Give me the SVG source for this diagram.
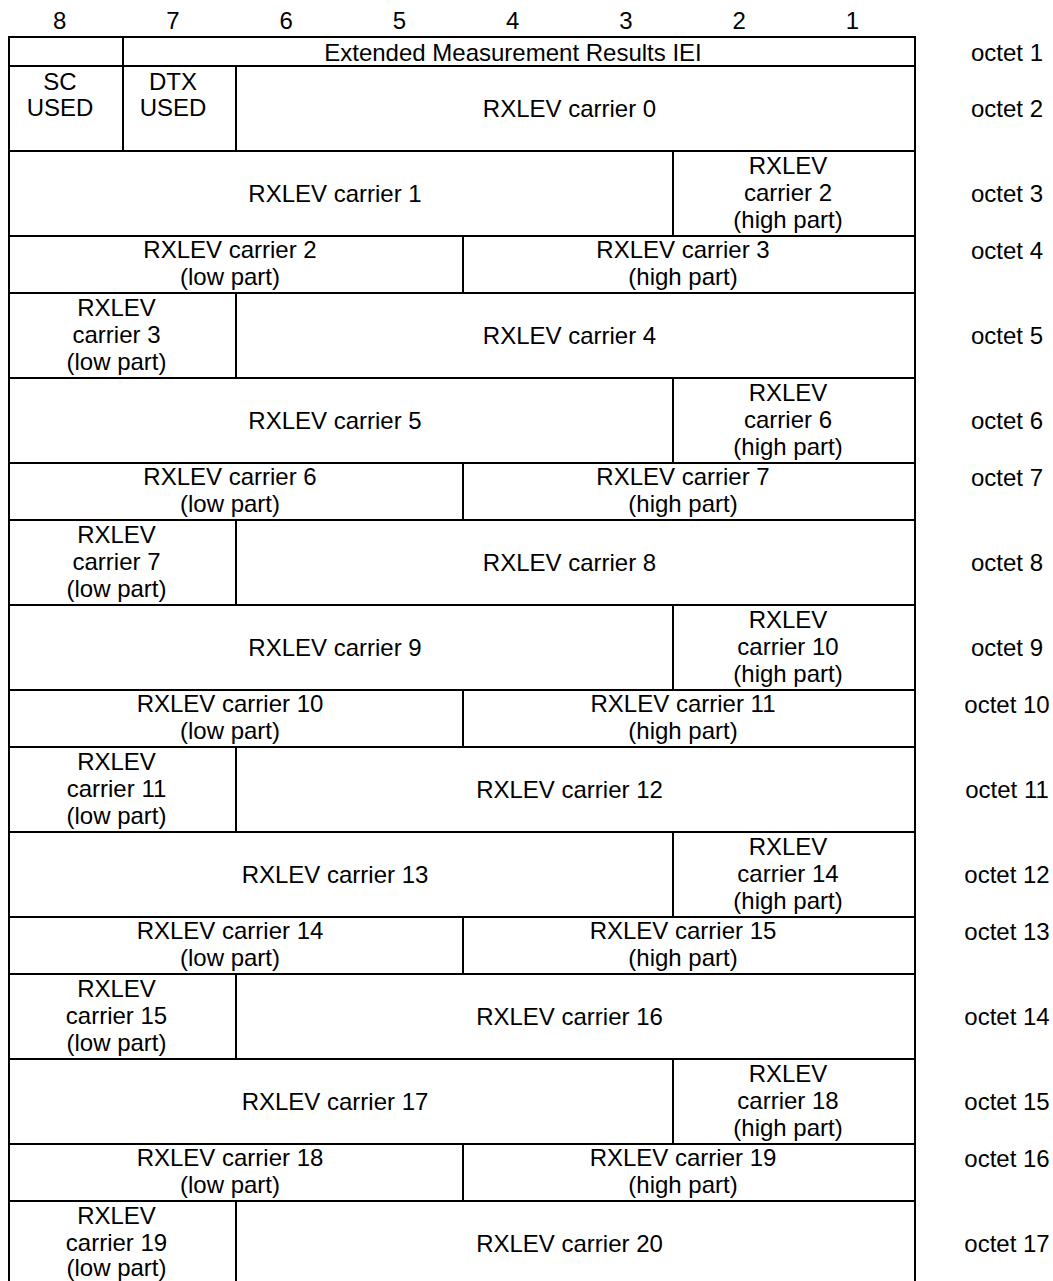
<svg xmlns="http://www.w3.org/2000/svg" width="1053" height="1281" viewBox="0 0 1053 1281">
<style>
text{font-family:"Liberation Sans",Arial,sans-serif;font-size:24px;fill:#000;text-anchor:middle}
.c{fill:none;stroke:#000;stroke-width:2}
</style>
<rect width="1053" height="1281" fill="#fff"/>
<g id="bits">
<text x="59.6" y="29">8</text><text x="172.9" y="29">7</text><text x="286.1" y="29">6</text><text x="399.4" y="29">5</text>
<text x="512.6" y="29">4</text><text x="625.9" y="29">3</text><text x="739.1" y="29">2</text><text x="852.4" y="29">1</text>
</g>
<g id="octets">
<text x="1007" y="61">octet 1</text>
<text x="1007" y="117">octet 2</text>
<text x="1007" y="202">octet 3</text>
<text x="1007" y="259">octet 4</text>
<text x="1007" y="344">octet 5</text>
<text x="1007" y="429">octet 6</text>
<text x="1007" y="486">octet 7</text>
<text x="1007" y="571">octet 8</text>
<text x="1007" y="656">octet 9</text>
<text x="1007" y="713">octet 10</text>
<text x="1007" y="798">octet 11</text>
<text x="1007" y="883">octet 12</text>
<text x="1007" y="940">octet 13</text>
<text x="1007" y="1025">octet 14</text>
<text x="1007" y="1110">octet 15</text>
<text x="1007" y="1167">octet 16</text>
<text x="1007" y="1252">octet 17</text>
</g>
<g id="o1-spare"><rect class="c" x="9" y="37" width="114" height="29"/></g>
<g id="o1-iei"><rect class="c" x="123" y="37" width="792" height="29"/><text x="513" y="61">Extended Measurement Results IEI</text></g>
<g id="o2-sc"><rect class="c" x="9" y="66" width="114" height="85"/><text x="60" y="90">SC</text><text x="60" y="116">USED</text></g>
<g id="o2-dtx"><rect class="c" x="123" y="66" width="113" height="85"/><text x="173" y="90">DTX</text><text x="173" y="116">USED</text></g>
<g id="o2-c0"><rect class="c" x="236" y="66" width="679" height="85"/><text x="569.5" y="117">RXLEV carrier 0</text></g>

<g id="o3-c1"><rect class="c" x="9" y="151" width="664" height="85"/><text x="335" y="202">RXLEV carrier 1</text></g>
<g id="o3-c2h"><rect class="c" x="673" y="151" width="242" height="85"/><text x="788" y="174">RXLEV</text><text x="788" y="201">carrier 2</text><text x="788" y="228">(high part)</text></g>
<g id="o4-c2l"><rect class="c" x="9" y="236" width="454" height="57"/><text x="230" y="258">RXLEV carrier 2</text><text x="230" y="285">(low part)</text></g>
<g id="o4-c3h"><rect class="c" x="463" y="236" width="452" height="57"/><text x="683" y="258">RXLEV carrier 3</text><text x="683" y="285">(high part)</text></g>
<g id="o5-c3l"><rect class="c" x="9" y="293" width="227" height="85"/><text x="116.5" y="316">RXLEV</text><text x="116.5" y="343">carrier 3</text><text x="116.5" y="370">(low part)</text></g>
<g id="o5-c4"><rect class="c" x="236" y="293" width="679" height="85"/><text x="569.5" y="344">RXLEV carrier 4</text></g>

<g id="o6-c5"><rect class="c" x="9" y="378" width="664" height="85"/><text x="335" y="429">RXLEV carrier 5</text></g>
<g id="o6-c6h"><rect class="c" x="673" y="378" width="242" height="85"/><text x="788" y="401">RXLEV</text><text x="788" y="428">carrier 6</text><text x="788" y="455">(high part)</text></g>
<g id="o7-c6l"><rect class="c" x="9" y="463" width="454" height="57"/><text x="230" y="485">RXLEV carrier 6</text><text x="230" y="512">(low part)</text></g>
<g id="o7-c7h"><rect class="c" x="463" y="463" width="452" height="57"/><text x="683" y="485">RXLEV carrier 7</text><text x="683" y="512">(high part)</text></g>
<g id="o8-c7l"><rect class="c" x="9" y="520" width="227" height="85"/><text x="116.5" y="543">RXLEV</text><text x="116.5" y="570">carrier 7</text><text x="116.5" y="597">(low part)</text></g>
<g id="o8-c8"><rect class="c" x="236" y="520" width="679" height="85"/><text x="569.5" y="571">RXLEV carrier 8</text></g>

<g id="o9-c9"><rect class="c" x="9" y="605" width="664" height="85"/><text x="335" y="656">RXLEV carrier 9</text></g>
<g id="o9-c10h"><rect class="c" x="673" y="605" width="242" height="85"/><text x="788" y="628">RXLEV</text><text x="788" y="655">carrier 10</text><text x="788" y="682">(high part)</text></g>
<g id="o10-c10l"><rect class="c" x="9" y="690" width="454" height="57"/><text x="230" y="712">RXLEV carrier 10</text><text x="230" y="739">(low part)</text></g>
<g id="o10-c11h"><rect class="c" x="463" y="690" width="452" height="57"/><text x="683" y="712">RXLEV carrier 11</text><text x="683" y="739">(high part)</text></g>
<g id="o11-c11l"><rect class="c" x="9" y="747" width="227" height="85"/><text x="116.5" y="770">RXLEV</text><text x="116.5" y="797">carrier 11</text><text x="116.5" y="824">(low part)</text></g>
<g id="o11-c12"><rect class="c" x="236" y="747" width="679" height="85"/><text x="569.5" y="798">RXLEV carrier 12</text></g>

<g id="o12-c13"><rect class="c" x="9" y="832" width="664" height="85"/><text x="335" y="883">RXLEV carrier 13</text></g>
<g id="o12-c14h"><rect class="c" x="673" y="832" width="242" height="85"/><text x="788" y="855">RXLEV</text><text x="788" y="882">carrier 14</text><text x="788" y="909">(high part)</text></g>
<g id="o13-c14l"><rect class="c" x="9" y="917" width="454" height="57"/><text x="230" y="939">RXLEV carrier 14</text><text x="230" y="966">(low part)</text></g>
<g id="o13-c15h"><rect class="c" x="463" y="917" width="452" height="57"/><text x="683" y="939">RXLEV carrier 15</text><text x="683" y="966">(high part)</text></g>
<g id="o14-c15l"><rect class="c" x="9" y="974" width="227" height="85"/><text x="116.5" y="997">RXLEV</text><text x="116.5" y="1024">carrier 15</text><text x="116.5" y="1051">(low part)</text></g>
<g id="o14-c16"><rect class="c" x="236" y="974" width="679" height="85"/><text x="569.5" y="1025">RXLEV carrier 16</text></g>

<g id="o15-c17"><rect class="c" x="9" y="1059" width="664" height="85"/><text x="335" y="1110">RXLEV carrier 17</text></g>
<g id="o15-c18h"><rect class="c" x="673" y="1059" width="242" height="85"/><text x="788" y="1082">RXLEV</text><text x="788" y="1109">carrier 18</text><text x="788" y="1136">(high part)</text></g>
<g id="o16-c18l"><rect class="c" x="9" y="1144" width="454" height="57"/><text x="230" y="1166">RXLEV carrier 18</text><text x="230" y="1193">(low part)</text></g>
<g id="o16-c19h"><rect class="c" x="463" y="1144" width="452" height="57"/><text x="683" y="1166">RXLEV carrier 19</text><text x="683" y="1193">(high part)</text></g>
<g id="o17-c19l"><rect class="c" x="9" y="1201" width="227" height="85"/><text x="116.5" y="1224">RXLEV</text><text x="116.5" y="1251">carrier 19</text><text x="116.5" y="1276">(low part)</text></g>
<g id="o17-c20"><rect class="c" x="236" y="1201" width="679" height="85"/><text x="569.5" y="1252">RXLEV carrier 20</text></g>
<g id="connectors"/>
</svg>
